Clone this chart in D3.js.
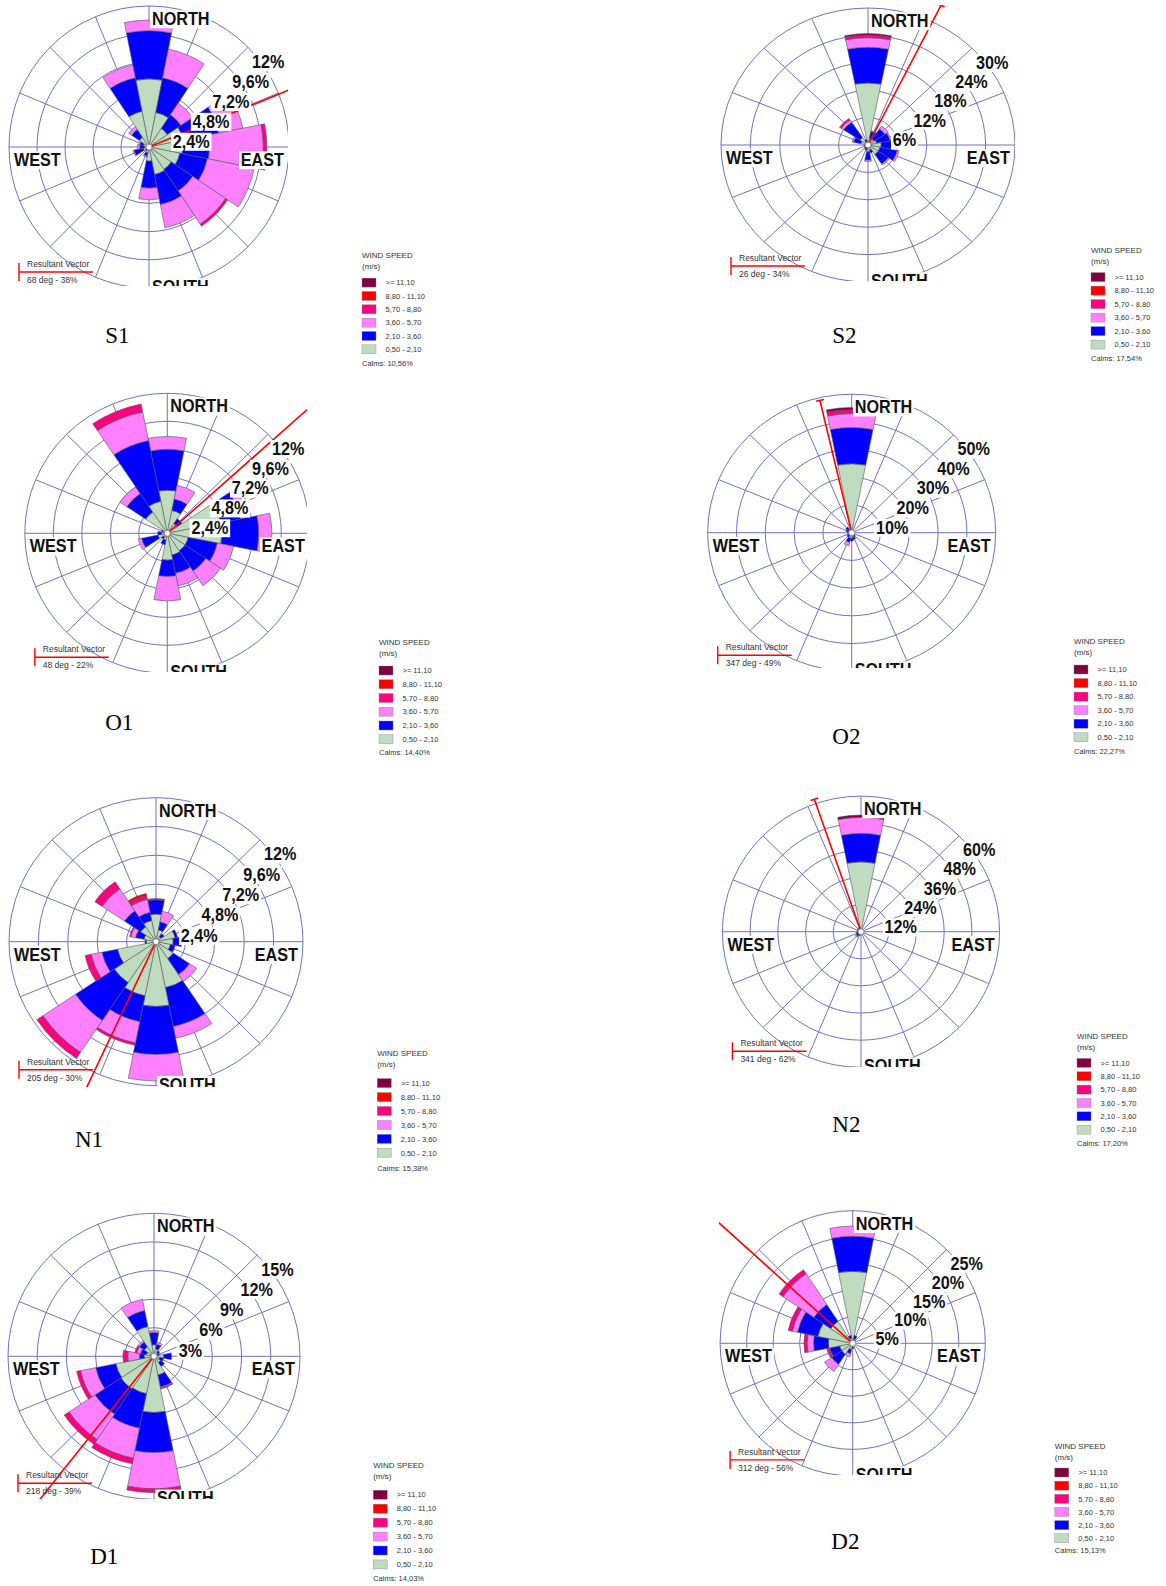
<!DOCTYPE html>
<html><head><meta charset="utf-8">
<script src="https://cdn.jsdelivr.net/npm/d3@7"></script>
<style>body{margin:0;background:#fff}svg{display:block}</style>
</head><body><svg id="c" width="1166" height="1586"></svg>
<script>
// ---------- DATA ----------
const directions = ["N","NNE","NE","ENE","E","ESE","SE","SSE","S","SSW","SW","WSW","W","WNW","NW","NNW"];
// speed classes, inner -> outer
const speedClasses = ["0,50 - 2,10","2,10 - 3,60","3,60 - 5,70","5,70 - 8,80","8,80 - 11,10",">= 11,10"];
const classColors = ["#c0dcc0","#0000ff","#ff80ff","#ff0080","#ff0000","#800040"];

// cumulative frequency (%) per direction, N..NNW, by speed class (inner -> outer)
const s1Data = [[5.8,9.9,10.8],[3.0,6.0,8.5],[1.9,3.3,4.5],[3.0,6.1,8.2],[2.9,5.2,9.8,10.1],[2.7,5.1,9.2],[2.3,4.5,7.9,8.1],[2.4,5.0,7.0],
  [1.2,3.5,4.5],[0.5,0.8,0.9],[0.3,0.4],[0.5,1.3,1.4],[0.4,0.8,1.0],[0.5,0.8,0.9],[1.0,1.8,2.1],[3.1,6.0,7.1]];
const s2Data = [[13.6,21.4,23.5,24.1,24.1,24.4],[1.5,3.0,3.2],[1.5,4.2,5.0],[1.8,4.6,4.8],[2.7,4.8,5.0],[2.5,6.1,6.5],[2.5,5.0,5.3],[1.2,1.8],
  [1.5,3.3,3.6],[0.8,1.2],[0.6,0.9],[0.4,0.6],[0.5,0.8],[1.5,3.0,3.3],[2.0,6.0,6.6,7.0],[0.8,1.2]];
const o1Data = [[3.7,7.2,8.3],[2.0,3.0,4.2],[1.0,1.5],[4.6,6.3,6.9],[4.6,7.7,8.8],[1.8,4.3,5.7],[1.8,3.9,5.4],[1.9,3.5,4.6],
  [2.3,3.7,5.8],[0.6,1.0],[0.4,0.6],[0.8,2.2,2.5],[0.5,0.8],[0.4,0.5],[2.2,4.1,4.8],[2.8,8.1,10.6,11.3]];
const o2Data = [[24.9,38.0,43.0,44.4,44.4,45.2],[0.5,0.8],[0.3],[0.3],[0.5,0.8],[0.5],[0.8,1.5],[1.5,2.5],
  [2.0,3.0],[2.0,3.5,4.8],[1.0,2.0],[0.8,1.5],[0.8,1.3],[1.0,2.0],[1.2,2.5],[0.8,1.2]];
const n1Data = [[2.3,3.5,3.5,3.6],[1.0,1.7,2.6],[0.5,0.8],[1.6,1.8],[1.4,2.1],[1.2,1.6],[1.7,3.3,4.0],[3.9,7.2,8.2],
  [5.4,9.4,11.6],[4.6,6.8,8.6,8.8],[4.1,7.9,11.1,11.7],[3.2,4.5,5.4,5.9],[0.8,0.9],[1.0,1.7,2.1,2.2],[1.5,3.1,5.3,6.0],[1.8,2.5,3.6,3.9,4.1]];
const n2Data = [[30.9,43.5,50.6,50.6,50.6,51.6],[0.4],[0.3],[0.3],[0.3],[0.3],[0.4],[0.5],
  [0.8,1.2],[1.0,1.8],[1.5,2.5,3.0],[1.2,2.2],[1.0,1.6],[0.8,1.5],[1.0,1.8],[1.2,2.0]];
const d1Data = [[1.2,2.5,2.7],[0.8,1.3,1.5],[0.5,0.7],[0.4,0.6],[1.0,1.8],[0.6,1.0],[0.8,1.3],[2.0,3.3,3.4,3.5],
  [5.9,10.1,13.9,14.3],[4.0,7.7,10.9,11.5],[4.1,7.3,10.5,11.1],[4.0,6.1,7.7,8.1],[1.0,1.5,2.7,3.2],[0.8,1.4,1.8,2.0],[1.2,1.8,2.0],[3.2,4.9,6.1]];
const d2Data = [[13.6,20.2,22.1],[0.8,1.5],[0.4],[0.3],[0.3],[0.3],[0.4],[0.5],
  [0.6,1.0],[1.2,2.0,2.6],[2.5,4.8,6.4],[2.5,4.4,4.4,4.9],[4.6,7.4,8.6,9.2],[6.7,10.6,11.6,12.4],[5.0,8.8,15.8,16.7],[1.0,1.5]];

// ring ticks (value, label)
const s1Ticks = [2.4,4.8,7.2,9.6,12], s1TickLabels = ["2,4%","4,8%","7,2%","9,6%","12%"];
const s2Ticks = [6,12,18,24,30], s2TickLabels = ["6%","12%","18%","24%","30%"];
const o1Ticks = [2.4,4.8,7.2,9.6,12], o1TickLabels = ["2,4%","4,8%","7,2%","9,6%","12%"];
const o2Ticks = [10,20,30,40,50], o2TickLabels = ["10%","20%","30%","40%","50%"];
const n1Ticks = [2.4,4.8,7.2,9.6,12], n1TickLabels = ["2,4%","4,8%","7,2%","9,6%","12%"];
const n2Ticks = [12,24,36,48,60], n2TickLabels = ["12%","24%","36%","48%","60%"];
const d1Ticks = [3,6,9,12,15], d1TickLabels = ["3%","6%","9%","12%","15%"];
const d2Ticks = [5,10,15,20,25], d2TickLabels = ["5%","10%","15%","20%","25%"];

// resultant vectors [deg, %] and calms
const resultantDeg = [68,26,48,347,205,341,218,312];
const resultantPct = [38,34,22,49,30,62,39,56];
const calms = ["10,56%","17,54%","14,40%","22,27%","15,38%","17,20%","14,03%","15,13%"];
const panelNames = ["S1","S2","O1","O2","N1","N2","D1","D2"];

// ---------- LAYOUT ----------
const panels = [
 {data:s1Data, ticks:s1Ticks, tl:s1TickLabels, cx:149, cy:147, rx:140, ry:141, clip:[0,0,288,286],
  lg:{x:362, ws:255, row1:282.6, step:13.35, calm:363}, cap:[117.3,334.7]},
 {data:s2Data, ticks:s2Ticks, tl:s2TickLabels, cx:868, cy:145, rx:147, ry:137, clip:[700,5,1015,281],
  lg:{x:1091, ws:249.8, row1:277.1, step:13.5, calm:358}, cap:[844.4,334.7]},
 {data:o1Data, ticks:o1Ticks, tl:o1TickLabels, cx:167.3, cy:533.3, rx:142.5, ry:140, clip:[15,385,307,672],
  lg:{x:379, ws:642.2, row1:670.5, step:13.75, calm:752.4}, cap:[119.3,722.1]},
 {data:o2Data, ticks:o2Ticks, tl:o2TickLabels, cx:851.7, cy:532.7, rx:144, ry:138.5, clip:[695,385,1005,668],
  lg:{x:1074, ws:641.2, row1:669.5, step:13.55, calm:751.4}, cap:[846.4,736.2]},
 {data:n1Data, ticks:n1Ticks, tl:n1TickLabels, cx:156, cy:941.7, rx:147, ry:144, clip:[0,785,310,1087],
  lg:{x:377.2, ws:1052.8, row1:1083.1, step:13.95, calm:1168}, cap:[89,1138.7]},
 {data:n2Data, ticks:n2Ticks, tl:n2TickLabels, cx:861, cy:931.7, rx:138.6, ry:135.6, clip:[705,785,1005,1067],
  lg:{x:1077, ws:1035.6, row1:1062.9, step:13.35, calm:1142.8}, cap:[846.4,1123.6]},
 {data:d1Data, ticks:d1Ticks, tl:d1TickLabels, cx:154, cy:1356.3, rx:146, ry:143, clip:[0,1195,310,1499],
  lg:{x:373.2, ws:1465.4, row1:1494.7, step:13.95, calm:1578.6}, cap:[104.2,1556.4]},
 {data:d2Data, ticks:d2Ticks, tl:d2TickLabels, cx:852.7, cy:1343.3, rx:132.6, ry:132.6, clip:[719,1195,1000,1475],
  lg:{x:1054.8, ws:1446.2, row1:1472.5, step:13.15, calm:1550.3}, cap:[845.4,1541.2]}
];

const gridColor = "#7272bb";
const sans = "'Liberation Sans', Arial, sans-serif";
const svg = d3.select("#c");
const defs = svg.append("defs");

function boxedText(parent, x, y, str, anchor) {
  const gg = parent.append("g").attr("transform", `translate(${x},${y}) scale(0.9,1)`);
  const rect = gg.append("rect").attr("fill", "#fff");
  const t = gg.append("text").attr("text-anchor", anchor).attr("font-family", sans)
    .attr("font-weight", "bold").attr("font-size", 18).attr("fill", "#111").text(str);
  const b = t.node().getBBox();
  rect.attr("x", b.x - 2).attr("y", b.y + 1).attr("width", b.width + 4).attr("height", b.height - 2);
}

panels.forEach((p, pi) => {
  const maxV = p.ticks[p.ticks.length - 1];
  const r = d3.scaleLinear().domain([0, maxV]).range([0, p.rx]);
  const clipId = "clip" + pi;
  defs.append("clipPath").attr("id", clipId).append("rect")
    .attr("x", p.clip[0]).attr("y", p.clip[1])
    .attr("width", p.clip[2] - p.clip[0]).attr("height", p.clip[3] - p.clip[1]);
  const outer = svg.append("g").attr("clip-path", `url(#${clipId})`);
  const g = outer.append("g").attr("transform", `translate(${p.cx},${p.cy}) scale(1,${p.ry / p.rx})`);

  // rings
  p.ticks.forEach(t => g.append("circle").attr("r", r(t)).attr("fill", "none")
    .attr("stroke", gridColor).attr("stroke-width", 1).attr("vector-effect", "non-scaling-stroke"));
  // spokes
  directions.forEach((d, i) => {
    const a = i * Math.PI / 8;
    g.append("line").attr("x1", 0).attr("y1", 0)
      .attr("x2", Math.sin(a) * r(maxV)).attr("y2", -Math.cos(a) * r(maxV))
      .attr("stroke", gridColor).attr("stroke-width", 1).attr("vector-effect", "non-scaling-stroke");
  });
  // bars
  const arc = d3.arc();
  const half = Math.PI / 16;
  p.data.forEach((row, i) => {
    const a = i * Math.PI / 8;
    let prev = 0;
    row.forEach((v, k) => {
      if (v > prev) {
        g.append("path").attr("d", arc({innerRadius: r(prev), outerRadius: r(v), startAngle: a - half, endAngle: a + half}))
          .attr("fill", classColors[k]).attr("stroke", "#555").attr("stroke-width", 0.6)
          .attr("vector-effect", "non-scaling-stroke");
        prev = v;
      }
    });
  });
  // resultant vector
  const va = resultantDeg[pi] * Math.PI / 180, vl = r(resultantPct[pi]);
  const ex = Math.sin(va) * vl, ey = -Math.cos(va) * vl;
  g.append("line").attr("x1", 0).attr("y1", 0).attr("x2", ex).attr("y2", ey)
    .attr("stroke", "#ff0000").attr("stroke-width", 1.6).attr("vector-effect", "non-scaling-stroke");
  const px = Math.cos(va) * 4, py = Math.sin(va) * 4;
  g.append("line").attr("x1", ex - px).attr("y1", ey - py).attr("x2", ex + px).attr("y2", ey + py)
    .attr("stroke", "#ff0000").attr("stroke-width", 1.6).attr("vector-effect", "non-scaling-stroke");
  // center
  g.append("circle").attr("r", 3).attr("fill", "#fff").attr("stroke", "#777").attr("stroke-width", 0.8)
    .attr("vector-effect", "non-scaling-stroke");

  // ring labels
  const k = p.ry / p.rx;
  p.ticks.forEach((t, i) => {
    const rr = r(t);
    boxedText(outer, p.cx + rr * 0.7071 + 4, p.cy - rr * k * 0.7071 + 14 + 6.5, p.tl[i], "start");
  });
  // direction labels
  boxedText(outer, p.cx + 3, p.cy - p.ry + 19, "NORTH", "start");
  boxedText(outer, p.cx + 3, p.cy + p.ry + 5, "SOUTH", "start");
  boxedText(outer, p.cx + p.rx - 5, p.cy + 19, "EAST", "end");
  boxedText(outer, p.cx - p.rx + 5, p.cy + 19, "WEST", "start");

  // resultant vector key
  const kx = p.cx - p.rx + 10, ky = p.cy + p.ry - 16;
  outer.append("line").attr("x1", kx).attr("y1", ky - 9).attr("x2", kx).attr("y2", ky + 9)
    .attr("stroke", "#ff0000").attr("stroke-width", 1.4);
  outer.append("line").attr("x1", kx).attr("y1", ky).attr("x2", kx + 74).attr("y2", ky)
    .attr("stroke", "#ff0000").attr("stroke-width", 1.4);
  outer.append("text").attr("x", kx + 8).attr("y", ky - 5).attr("font-family", sans).attr("font-size", 8.5)
    .attr("fill", "#333").text("Resultant Vector");
  outer.append("text").attr("x", kx + 8).attr("y", ky + 11).attr("font-family", sans).attr("font-size", 8.5)
    .attr("fill", "#333").text(`${resultantDeg[pi]} deg - ${resultantPct[pi]}%`);

  // wind speed legend
  const L = svg.append("g");
  L.append("text").attr("x", p.lg.x).attr("y", p.lg.ws + 3).attr("font-family", sans).attr("font-size", 8)
    .attr("fill", "#333").text("WIND SPEED");
  L.append("text").attr("x", p.lg.x).attr("y", p.lg.ws + 14).attr("font-family", sans).attr("font-size", 8)
    .attr("fill", "#333").text("(m/s)");
  for (let j = 0; j < 6; j++) {
    const ci = 5 - j;
    const yc = p.lg.row1 + j * p.lg.step;
    L.append("rect").attr("x", p.lg.x).attr("y", yc - 4.5).attr("width", 14).attr("height", 9)
      .attr("fill", classColors[ci]).attr("stroke", "#888").attr("stroke-width", 0.4);
    L.append("text").attr("x", p.lg.x + 23.5).attr("y", yc + 2.7).attr("font-family", sans).attr("font-size", 7.5)
      .attr("fill", "#333").text(speedClasses[ci]);
  }
  L.append("text").attr("x", p.lg.x).attr("y", p.lg.calm + 2.7).attr("font-family", sans).attr("font-size", 7.5)
    .attr("fill", "#333").text("Calms: " + calms[pi]);

  // caption
  svg.append("text").attr("x", p.cap[0]).attr("y", p.cap[1] + 8).attr("text-anchor", "middle")
    .attr("font-family", "'Liberation Serif', 'Times New Roman', serif").attr("font-size", 23)
    .attr("fill", "#000").text(panelNames[pi]);
});
</script></body></html>
